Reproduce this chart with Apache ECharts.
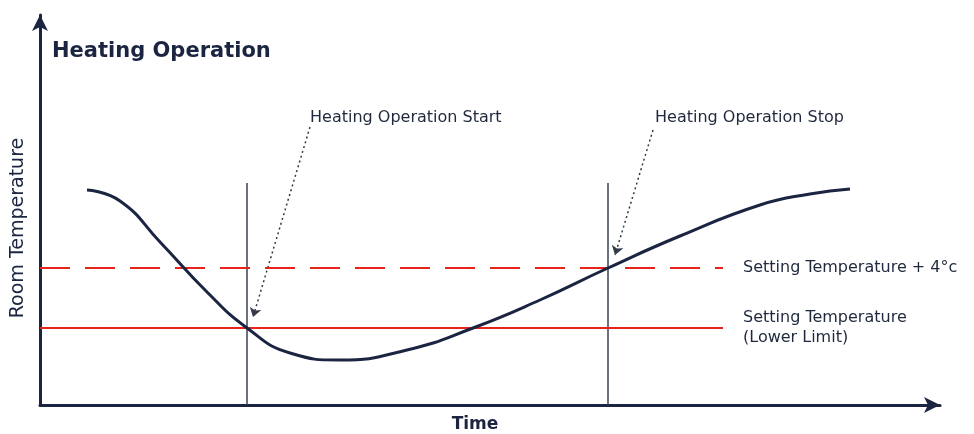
<!DOCTYPE html>
<html>
<head>
<meta charset="utf-8">
<script src="https://cdn.jsdelivr.net/npm/echarts@6/dist/echarts.min.js"></script>
<style>
  html, body { margin: 0; padding: 0; background: #fff; }
  #chart { width: 974px; height: 434px; }
</style>
</head>
<body>
<div id="chart"></div>
<script>
// room temperature curve (time, temperature) in arbitrary units
var curveTime = [47, 80, 120, 167, 207, 250, 300, 367, 433, 500, 568, 640, 720, 770, 810];
var curveTemp = [215, 204, 163, 113, 77, 52, 45, 55, 77, 105, 137, 169, 200, 211, 216];

// heating on / off moments and thresholds
var startTime = 207;
var stopTime = 568;
var markerTop = 222;
var lowerLimit = 77;
var upperLimit = 137;
var limitEnd = 683;

// annotation texts and arrows: [textX, textY, arrowFromX, arrowFromY, arrowToX, arrowToY]
var noteText = ['Heating Operation Start', 'Heating Operation Stop'];
var notePos = [[270, 287, 270, 278, 213, 88], [615, 287, 613, 275, 575, 150]];

var lineLabels = ['Setting Temperature + 4\u00b0c', 'Setting Temperature\n(Lower Limit)'];

var navy = '#1b2541';
var textCol = '#1f283c';
var red = '#e8231c';

var chart = echarts.init(document.getElementById('chart'));

var curveData = curveTime.map(function (t, i) { return [t, curveTemp[i]]; });

var option = {
    animation: false,
    title: {
        text: 'Heating Operation',
        left: 47,
        top: 36,
        textStyle: { fontFamily: 'DejaVu Sans', fontSize: 21, fontWeight: 'bold', color: navy }
    },
    grid: { left: 40, right: 34, top: 15, bottom: 29, outerBoundsMode: 'none', containLabel: false },
    xAxis: {
        type: 'value', min: 0, max: 900,
        name: 'Time', nameLocation: 'middle', nameGap: 11,
        nameTextStyle: { fontFamily: 'DejaVu Sans', fontSize: 17, fontWeight: 'bold', color: navy, padding: [0, 30, 0, 0] },
        axisLine: { lineStyle: { color: navy, width: 3 }, symbol: ['none', 'arrow'], symbolSize: [12, 16] },
        axisTick: { show: false }, axisLabel: { show: false }, splitLine: { show: false }
    },
    yAxis: {
        type: 'value', min: 0, max: 390,
        name: 'Room Temperature', nameLocation: 'middle', nameGap: 12,
        nameTextStyle: { fontFamily: 'DejaVu Sans', fontSize: 19, color: navy, padding: [0, 36, 0, 0] },
        axisLine: { lineStyle: { color: navy, width: 3 }, symbol: ['none', 'arrow'], symbolSize: [12, 16] },
        axisTick: { show: false }, axisLabel: { show: false }, splitLine: { show: false }
    },
    series: [
        {
            type: 'line',
            data: curveData,
            smooth: 0.5,
            smoothMonotone: 'none',
            showSymbol: false,
            silent: true,
            z: 5,
            lineStyle: { color: navy, width: 3 },
            markLine: {
                silent: true,
                symbol: 'none',
                data: [
                    [{ coord: [startTime, 0] }, { coord: [startTime, markerTop] }],
                    [{ coord: [stopTime, 0] }, { coord: [stopTime, markerTop] }],
                    [
                        { coord: [0, upperLimit], lineStyle: { color: red, width: 2, type: [30, 15] } },
                        { coord: [limitEnd, upperLimit], label: { show: true, formatter: lineLabels[0] } }
                    ],
                    [
                        { coord: [0, lowerLimit], lineStyle: { color: red, width: 2, type: 'solid' } },
                        { coord: [limitEnd, lowerLimit], label: { show: true, formatter: lineLabels[1], padding: [8, 0, 0, 0] } }
                    ]
                ],
                lineStyle: { color: '#3a4254', width: 1.5, type: 'solid' },
                label: {
                    show: false, position: 'end', distance: 20,
                    fontFamily: 'DejaVu Sans', fontSize: 16, lineHeight: 20, color: textCol, align: 'left'
                }
            }
        },
        {
            type: 'lines',
            coordinateSystem: 'cartesian2d',
            silent: true,
            symbol: ['none', 'arrow'],
            symbolSize: 9,
            lineStyle: { color: '#333a48', width: 1.5, type: [2, 3], opacity: 1 },
            data: notePos.map(function (p) { return { coords: [[p[2], p[3]], [p[4], p[5]]] }; })
        },
        {
            type: 'scatter',
            silent: true,
            symbolSize: 0,
            itemStyle: { opacity: 1 },
            data: notePos.map(function (p, i) { return { value: [p[0], p[1]], name: noteText[i] }; }),
            label: {
                show: true, position: 'right', distance: 0,
                formatter: '{b}',
                fontFamily: 'DejaVu Sans', fontSize: 16, color: textCol
            }
        }
    ]
};

chart.setOption(option);
window.addEventListener('resize', function () { chart.resize(); });
</script>
</body>
</html>
